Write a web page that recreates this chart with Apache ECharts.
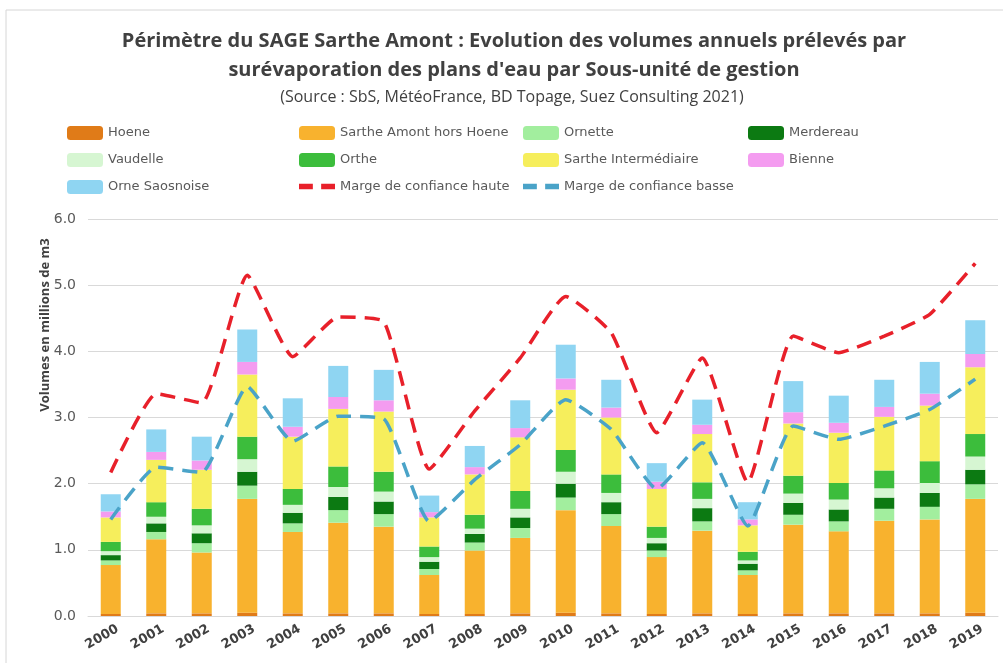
<!DOCTYPE html>
<html>
<head>
<meta charset="utf-8">
<script src="https://cdn.jsdelivr.net/npm/echarts@6/dist/echarts.min.js"></script>
<style>
  html, body { margin: 0; padding: 0; background: #fff; }
  #chart { width: 1003px; height: 663px; }
</style>
</head>
<body>
<div id="chart"></div>
<script>
// années
const years = ['2000','2001','2002','2003','2004','2005','2006','2007','2008','2009',
               '2010','2011','2012','2013','2014','2015','2016','2017','2018','2019'];

// volumes par sous-unité (millions de m3)
const hoene        = [0.03,0.04,0.04,0.05,0.04,0.04,0.04,0.03,0.03,0.04,0.05,0.04,0.03,0.04,0.03,0.04,0.04,0.04,0.04,0.05];
const sartheAmont  = [0.74,1.12,0.92,1.72,1.23,1.37,1.31,0.59,0.96,1.14,1.55,1.32,0.86,1.25,0.59,1.34,1.24,1.40,1.42,1.72];
const ornette      = [0.07,0.11,0.14,0.20,0.13,0.19,0.19,0.09,0.12,0.15,0.19,0.18,0.10,0.14,0.07,0.15,0.15,0.18,0.19,0.22];
const merdereau    = [0.08,0.13,0.15,0.21,0.16,0.20,0.19,0.11,0.13,0.16,0.21,0.18,0.11,0.20,0.10,0.18,0.18,0.17,0.21,0.22];
const vaudelle     = [0.06,0.10,0.12,0.19,0.12,0.15,0.15,0.07,0.08,0.13,0.18,0.14,0.08,0.14,0.05,0.14,0.15,0.14,0.15,0.20];
const orthe        = [0.14,0.22,0.25,0.34,0.24,0.31,0.30,0.16,0.21,0.27,0.33,0.28,0.17,0.25,0.13,0.27,0.25,0.27,0.33,0.34];
const sartheInter  = [0.37,0.64,0.59,0.94,0.79,0.87,0.91,0.44,0.61,0.81,0.91,0.86,0.57,0.73,0.40,0.79,0.76,0.81,0.84,1.01];
const bienne       = [0.09,0.12,0.14,0.19,0.15,0.18,0.17,0.08,0.11,0.14,0.17,0.15,0.11,0.14,0.09,0.17,0.15,0.15,0.18,0.20];
const orneSaos     = [0.26,0.34,0.36,0.49,0.43,0.47,0.46,0.25,0.32,0.42,0.51,0.42,0.28,0.38,0.26,0.47,0.41,0.41,0.48,0.51];

// marges de confiance
const margeHaute = [2.17,3.36,3.22,5.15,3.92,4.52,4.45,2.22,3.10,3.90,4.83,4.28,2.77,3.90,2.02,4.23,3.98,4.23,4.56,5.33];
const margeBasse = [1.46,2.25,2.17,3.47,2.64,3.02,2.98,1.43,2.06,2.59,3.27,2.82,1.92,2.62,1.36,2.87,2.67,2.87,3.12,3.58];

// graduations de l'axe Y
const yTicks = [0, 1, 2, 3, 4, 5, 6];

const TITLE_FONT = '"Open Sans", Lato, sans-serif';
const FONT = '"DejaVu Sans", sans-serif';
// icône de légende pour les courbes en tirets
const DASH_ICON = 'path://M0,0h10v4h-10zM16,0h10v4h-10z';

let chart = echarts.init(document.getElementById('chart'));

function bar(name, data, color) {
  return {
    name: name,
    type: 'bar',
    stack: 'total',
    barWidth: 20,
    data: data,
    itemStyle: { color: color },
    emphasis: { disabled: true }
  };
}

function dashLine(name, data, color) {
  return {
    name: name,
    type: 'line',
    data: data,
    smooth: 0.15,
    symbol: 'none',
    z: 5,
    lineStyle: { color: color, width: 3.5, type: [15, 9] },
    itemStyle: { color: color }
  };
}

const legendText = { color: '#595959', fontSize: 13, fontFamily: FONT };
function legendCol(left, names) {
  return {
    orient: 'vertical',
    left: left,
    top: 121,
    itemGap: 13,
    itemWidth: 36,
    itemHeight: 14,
    textStyle: legendText,
    data: names.map(n => n.indexOf('Marge') === 0 ? { name: n, icon: DASH_ICON } : n)
  };
}

let option = {
  animation: false,
  backgroundColor: '#fff',
  title: [
    {
      text: "Périmètre du SAGE Sarthe Amont : Evolution des volumes annuels prélevés par\nsurévaporation des plans d'eau par Sous-unité de gestion",
      left: 509,
      top: 22,
      textAlign: 'center',
      textStyle: { fontSize: 20, fontWeight: 'bold', color: '#404040', fontFamily: TITLE_FONT, lineHeight: 29 }
    },
    {
      text: '(Source : SbS, MétéoFrance, BD Topage, Suez Consulting 2021)',
      left: 507,
      top: 84,
      textAlign: 'center',
      textStyle: { fontSize: 16, fontWeight: 'normal', color: '#404040', fontFamily: TITLE_FONT }
    }
  ],
  legend: [
    legendCol(62, ['Hoene', 'Vaudelle', 'Orne Saosnoise']),
    legendCol(294, ['Sarthe Amont hors Hoene', 'Orthe', 'Marge de confiance haute']),
    legendCol(518, ['Ornette', 'Sarthe Intermédiaire', 'Marge de confiance basse']),
    legendCol(743, ['Merdereau', 'Bienne'])
  ],
  grid: { left: 88, right: 5, top: 219, bottom: 47 },
  xAxis: {
    type: 'category',
    data: years,
    axisTick: { show: false },
    axisLine: { lineStyle: { color: '#d9d9d9' } },
    axisLabel: {
      rotate: 30,
      interval: 0,
      margin: 16,
      align: 'center',
      verticalAlign: 'middle',
      padding: [0, 20, 0, 0],
      color: '#404040',
      fontWeight: 'bold',
      fontSize: 13,
      fontFamily: FONT
    }
  },
  yAxis: {
    type: 'value',
    min: yTicks[0],
    max: yTicks[yTicks.length - 1],
    interval: 1,
    axisLine: { show: false },
    axisTick: { show: false },
    splitLine: { lineStyle: { color: '#d9d9d9' } },
    axisLabel: {
      color: '#595959',
      fontSize: 14,
      margin: 12,
      fontFamily: FONT,
      formatter: v => v.toFixed(1)
    }
  },
  graphic: [
    {
      type: 'rect',
      shape: { x: 6, y: 10, width: 1010, height: 670 },
      style: { fill: 'none', stroke: '#d6d6d6', lineWidth: 1 },
      silent: true
    },
    {
      type: 'text',
      x: 45,
      y: 325,
      rotation: Math.PI / 2,
      style: {
        text: 'Volumes en millions de m3',
        fill: '#404040',
        font: 'bold 13px ' + TITLE_FONT,
        textAlign: 'center',
        textVerticalAlign: 'middle'
      }
    }
  ],
  series: [
    bar('Hoene', hoene, '#e07b18'),
    bar('Sarthe Amont hors Hoene', sartheAmont, '#f8b22e'),
    bar('Ornette', ornette, '#a2ee9e'),
    bar('Merdereau', merdereau, '#0c7a12'),
    bar('Vaudelle', vaudelle, '#d6f6d2'),
    bar('Orthe', orthe, '#3cbd3c'),
    bar('Sarthe Intermédiaire', sartheInter, '#f6ee5c'),
    bar('Bienne', bienne, '#f49cf0'),
    bar('Orne Saosnoise', orneSaos, '#8fd5f2'),
    dashLine('Marge de confiance haute', margeHaute, '#e8202a'),
    dashLine('Marge de confiance basse', margeBasse, '#4aa3c8')
  ]
};

chart.setOption(option);
</script>
</body>
</html>
